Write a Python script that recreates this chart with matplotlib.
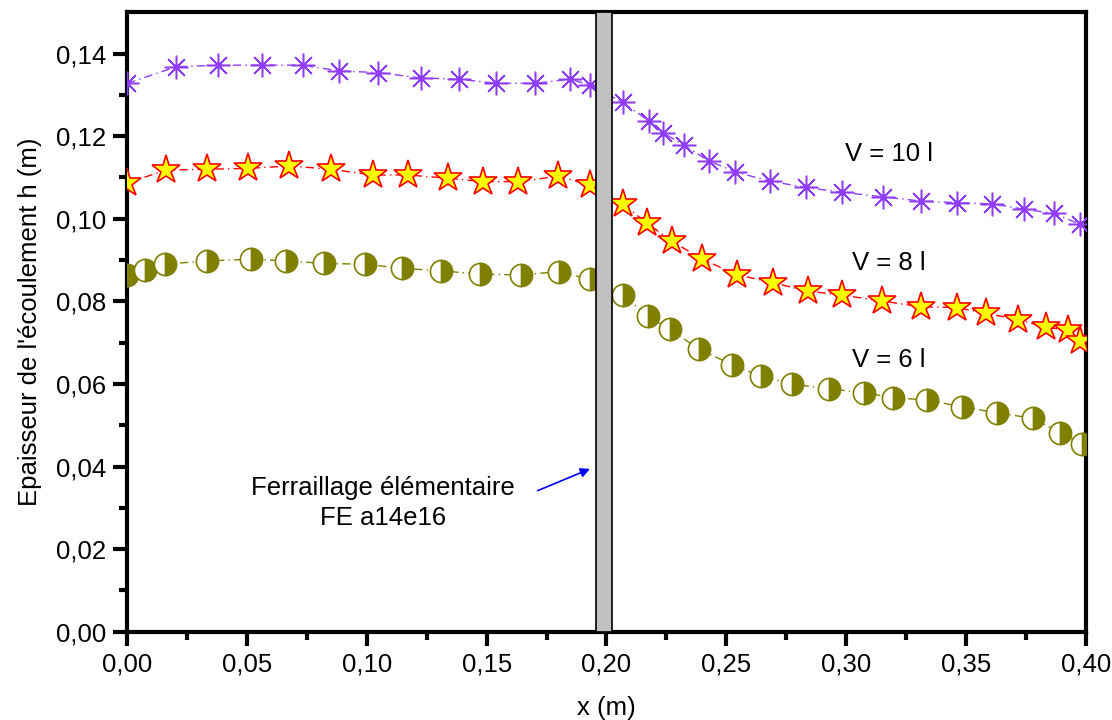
import matplotlib.pyplot as plt
from matplotlib.patches import Rectangle

plt.rcParams['font.family'] = ['Liberation Sans', 'DejaVu Sans']

# V = 10 l (asterisks)
x10 = [0.0, 0.0203, 0.038, 0.0561, 0.0732, 0.0885, 0.1048, 0.1224, 0.1386, 0.1539,
       0.1702, 0.1848, 0.1931, 0.2067, 0.2177, 0.2237, 0.2323, 0.2428, 0.2536, 0.2682,
       0.2832, 0.2985, 0.3155, 0.3311, 0.3461, 0.3611, 0.3744, 0.3868, 0.3975]
h10 = [0.1328, 0.1368, 0.1372, 0.1372, 0.1372, 0.1358, 0.1354, 0.1341, 0.1338, 0.1328,
       0.1328, 0.1338, 0.1324, 0.1282, 0.1237, 0.1208, 0.1178, 0.1140, 0.1114, 0.1091,
       0.1076, 0.1064, 0.1053, 0.1043, 0.1039, 0.1036, 0.1023, 0.1013, 0.0987]

# V = 8 l (stars)
x8 = [0.0, 0.0162, 0.0334, 0.0505, 0.0676, 0.0849, 0.1024, 0.1173, 0.1340, 0.1486,
      0.1632, 0.1799, 0.1931, 0.2067, 0.2168, 0.2272, 0.2400, 0.2543, 0.2696, 0.2840,
      0.2985, 0.3148, 0.3311, 0.3464, 0.3583, 0.3718, 0.3834, 0.3927, 0.3975]
h8 = [0.1087, 0.1118, 0.1120, 0.1122, 0.1128, 0.1120, 0.1106, 0.1106, 0.1098, 0.1090,
      0.1090, 0.1103, 0.1082, 0.1036, 0.0990, 0.0946, 0.0902, 0.0865, 0.0845, 0.0825,
      0.0815, 0.0801, 0.0787, 0.0785, 0.0771, 0.0756, 0.0737, 0.0731, 0.0705]

# V = 6 l (half-filled circles)
x6 = [0.0, 0.0074, 0.0157, 0.0331, 0.0515, 0.0662, 0.0822, 0.0992, 0.1148, 0.1308,
      0.1472, 0.1642, 0.1802, 0.1931, 0.2067, 0.2174, 0.2265, 0.2387, 0.2523, 0.2643,
      0.2775, 0.2930, 0.3074, 0.3194, 0.3339, 0.3482, 0.3631, 0.3779, 0.3893, 0.3985]
h6 = [0.0864, 0.0877, 0.0890, 0.0898, 0.0902, 0.0898, 0.0892, 0.0890, 0.0880, 0.0874,
      0.0866, 0.0864, 0.0872, 0.0853, 0.0815, 0.0764, 0.0732, 0.0684, 0.0647, 0.0619,
      0.0600, 0.0588, 0.0579, 0.0567, 0.0561, 0.0545, 0.0530, 0.0517, 0.0482, 0.0455]

xticks = [0.0, 0.05, 0.10, 0.15, 0.20, 0.25, 0.30, 0.35, 0.40]
yticks = [0.0, 0.02, 0.04, 0.06, 0.08, 0.10, 0.12, 0.14]

purple = '#8f3cff'
olive = '#808000'
fs = 18.5

fig = plt.figure(figsize=(11.12, 7.2), dpi=100)
ax = fig.add_axes([0.1145, 0.1226, 0.8618, 0.8603])

# steel bar
ax.add_patch(Rectangle((0.1955, 0.0), 0.007, 0.15, facecolor='#c0c0c0',
                       edgecolor='black', linewidth=1.2, zorder=4))

ls = (0, (6, 3, 1, 3))
ax.plot(x10, h10, color=purple, lw=1, ls=ls, marker=(8, 2, 0), ms=17,
        mew=1.1, mec=purple, zorder=3)
ax.plot(x10, h10, ls='none', marker='o', ms=3.5, color=purple, zorder=3)
ax.plot(x8, h8, color='red', lw=1, ls=ls, marker='*', ms=21, mfc='yellow',
        mec='red', mew=1.2, zorder=3)
ax.plot(x6, h6, color=olive, lw=1, ls=ls, marker='o', ms=16, mfc=olive,
        fillstyle='right', mfcalt='white', mec=olive, mew=1.2, zorder=3)

ax.text(0.318, 0.1158, 'V = 10 l', fontsize=fs, ha='center', va='center')
ax.text(0.318, 0.0892, 'V = 8 l', fontsize=fs, ha='center', va='center')
ax.text(0.318, 0.0658, 'V = 6 l', fontsize=fs, ha='center', va='center')

ax.annotate('', xy=(0.1942, 0.0397), xytext=(0.1702, 0.0339),
            arrowprops=dict(arrowstyle='-|>', color='blue', lw=1.2,
                            mutation_scale=14))
ax.text(0.1067, 0.0312, 'Ferraillage élémentaire\nFE a14e16', fontsize=fs,
        ha='center', va='center', linespacing=1.28)

ax.set_xlim(0, 0.40)
ax.set_ylim(0, 0.15)
ax.set_xticks(xticks)
ax.set_yticks(yticks)
ax.set_xticklabels([f'{v:.2f}'.replace('.', ',') for v in xticks])
ax.set_yticklabels([f'{v:.2f}'.replace('.', ',') for v in yticks])
ax.set_xticks([0.025 + 0.05 * i for i in range(8)], minor=True)
ax.set_yticks([0.01 + 0.02 * i for i in range(7)], minor=True)
ax.tick_params(which='major', direction='out', length=10, width=3,
               labelsize=fs, pad=5, top=False, right=False)
ax.tick_params(which='minor', direction='out', length=6, width=3,
               top=False, right=False)
for side in ['left', 'bottom', 'top', 'right']:
    ax.spines[side].set_linewidth(3)

ax.set_xlabel('x (m)', fontsize=fs, labelpad=14)
ax.set_ylabel("Epaisseur de l'écoulement h (m)", fontsize=fs, labelpad=10)

fig.savefig('out.png', dpi=100)
